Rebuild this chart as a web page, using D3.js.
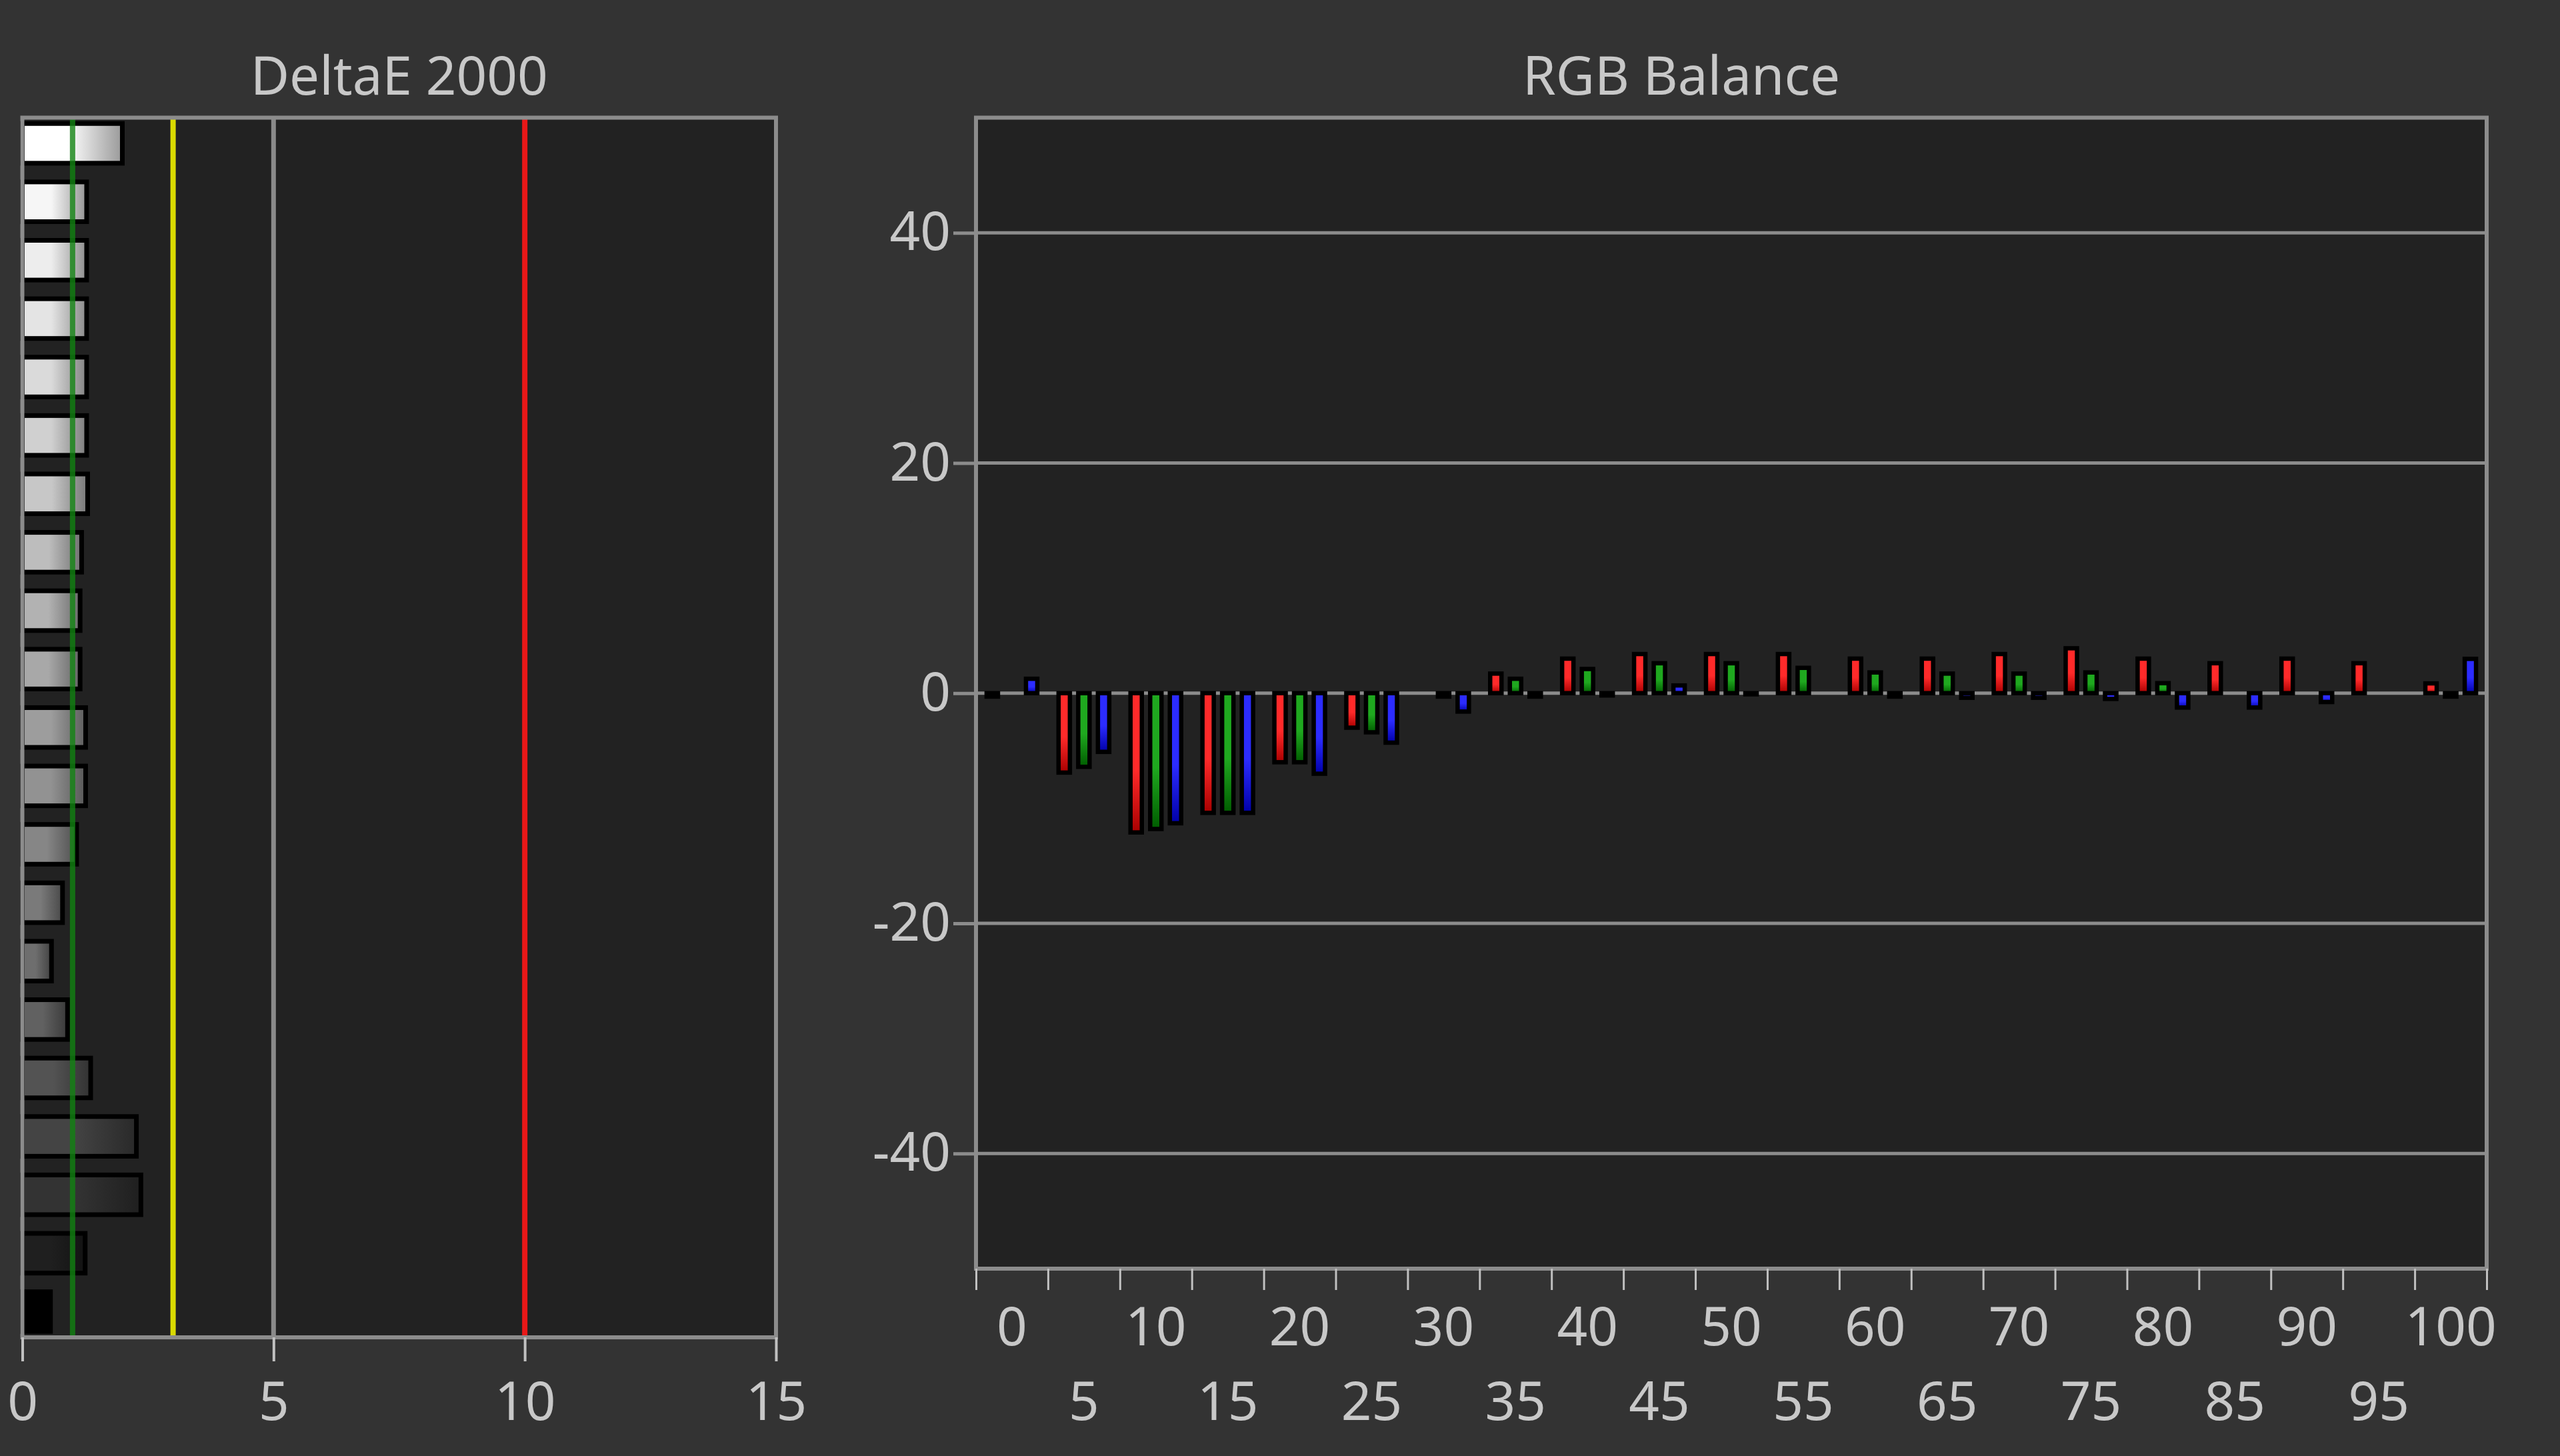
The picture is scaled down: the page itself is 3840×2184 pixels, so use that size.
<!DOCTYPE html>
<html><head><meta charset="utf-8">
<script src="https://cdn.jsdelivr.net/npm/d3@7/dist/d3.min.js"></script>
<style>html,body{margin:0;padding:0;background:#333333;} svg{display:block}</style>
</head><body>
<svg id="c" width="3840" height="2184"></svg>
<script>
// ---------- DATA ----------
const deltaCategories = ["100","95","90","85","80","75","70","65","60","55","50","45","40","35","30","25","20","15","10","5","0"];
const deltaValues = [1.99,1.28,1.28,1.28,1.28,1.28,1.30,1.18,1.15,1.15,1.26,1.26,1.08,0.80,0.58,0.90,1.36,2.27,2.36,1.25,0.56];
const deltaTicks = [0,5,10,15];
const deltaRefValues = [1,3,10];
const deltaGridValues = [5];

const rgbCategories = ["0","5","10","15","20","25","30","35","40","45","50","55","60","65","70","75","80","85","90","95","100"];
const redValues   = [-0.3,-6.9,-12.1,-10.4,-6.0,-3.0, 0.0, 1.7, 3.0, 3.4, 3.4, 3.4, 3.0, 3.0, 3.4, 3.9, 3.0, 2.6, 3.0, 2.6, 0.85];
const greenValues = [ 0.0,-6.4,-11.8,-10.4,-6.0,-3.4,-0.3, 1.25,2.1, 2.6, 2.6, 2.2, 1.8, 1.7, 1.7, 1.8, 0.87,0.0, 0.0, 0.0,-0.3];
const blueValues  = [ 1.25,-5.1,-11.3,-10.4,-7.0,-4.3,-1.6,-0.3,-0.2, 0.67,-0.1,0.0,-0.3,-0.4,-0.4,-0.5,-1.25,-1.25,-0.77,0.0, 2.98];
const rgbYTicks = [-40,-20,0,20,40];

// ---------- STYLE ----------
const FONT = "'Segoe UI','Noto Sans','Open Sans',sans-serif";
const TXT = "#c8c8c8";
const BORDER = "#8c8c8c";
const PLOTBG = "#222222";
const fmt = d => String(d);   // plain hyphen-minus like the original

const svg = d3.select("#c");
svg.append("rect").attr("width",3840).attr("height",2184).attr("fill","#333333");
const defs = svg.append("defs");

// ================= LEFT PANEL: DeltaE 2000 =================
const L = {x0:33.5, x1:1164, y0:176.5, y1:2006};
const xL = d3.scaleLinear().domain([0,15]).range([L.x0, L.x1]);
const yL = d3.scaleBand().domain(deltaCategories).range([L.y0, L.y1]).paddingInner(0.32).paddingOuter(0.1);

const gL = svg.append("g");
gL.append("rect").attr("x",L.x0).attr("y",L.y0).attr("width",L.x1-L.x0).attr("height",L.y1-L.y0).attr("fill",PLOTBG);

gL.selectAll("line.grid").data(deltaGridValues).join("line")
  .attr("x1",d=>xL(d)).attr("x2",d=>xL(d)).attr("y1",L.y0).attr("y2",L.y1)
  .attr("stroke","#8a8a8a").attr("stroke-width",7);

deltaCategories.forEach((c,i)=>{
  const s = (+c)/100;
  const v = Math.round(255*Math.pow(s,0.7));
  const base = d3.rgb(v,v,v);
  const dark = d3.rgb(v*0.6,v*0.6,v*0.6);
  const g = defs.append("linearGradient").attr("id","gl"+i).attr("x1",0).attr("x2",1).attr("y1",0).attr("y2",0);
  g.append("stop").attr("offset","0%").attr("stop-color",base.formatHex());
  g.append("stop").attr("offset","45%").attr("stop-color",base.formatHex());
  g.append("stop").attr("offset","100%").attr("stop-color",dark.formatHex());
});

gL.selectAll("rect.bar").data(deltaValues).join("rect")
  .attr("class","bar")
  .attr("x",xL(0))
  .attr("y",(d,i)=>yL(deltaCategories[i]))
  .attr("width",d=>xL(d)-xL(0))
  .attr("height",yL.bandwidth())
  .attr("fill",(d,i)=>"url(#gl"+i+")")
  .attr("stroke","#000").attr("stroke-width",7);

const refColors = {1:"rgb(18,131,18)",3:"#dada00",10:"#e81818"};
gL.selectAll("line.ref").data(deltaRefValues).join("line")
  .attr("x1",d=>xL(d)).attr("x2",d=>xL(d)).attr("y1",L.y0).attr("y2",L.y1)
  .attr("stroke",d=>refColors[d]).attr("stroke-width",8)
  .attr("stroke-opacity",d=>d===1?0.8:1);

gL.append("rect").attr("x",L.x0).attr("y",L.y0).attr("width",L.x1-L.x0).attr("height",L.y1-L.y0)
  .attr("fill","none").attr("stroke",BORDER).attr("stroke-width",6);

const axL = svg.append("g").attr("transform",`translate(0,${L.y1})`)
  .call(d3.axisBottom(xL).tickValues(deltaTicks).tickSize(36).tickFormat(fmt));
axL.select(".domain").remove();
axL.selectAll(".tick line").attr("stroke","#c0c0c0").attr("stroke-width",4);
axL.selectAll(".tick text").attr("fill",TXT).attr("font-family",FONT).attr("font-size",80)
  .attr("y",2101-L.y1).attr("dy","0.36em");

svg.append("text").attr("x",(L.x0+L.x1)/2).attr("y",113).attr("dy","0.36em")
  .attr("text-anchor","middle").attr("fill",TXT).attr("font-family",FONT).attr("font-size",80)
  .text("DeltaE 2000");

// ================= RIGHT PANEL: RGB Balance =================
const R = {x0:1464, x1:3730, y0:176.5, y1:1903};
const xR = d3.scaleBand().domain(rgbCategories).range([R.x0, R.x1]).padding(0);
const channels = ["R","G","B"];
const xSub = d3.scaleBand().domain(channels).range([0, xR.bandwidth()]).paddingInner(0.356).paddingOuter(0.506);
const yR = d3.scaleLinear().domain([-50,50]).range([R.y1, R.y0]);
const xEdge = d3.scaleLinear().domain([0, rgbCategories.length]).range([R.x0, R.x1]);

const gR = svg.append("g");
gR.append("rect").attr("x",R.x0).attr("y",R.y0).attr("width",R.x1-R.x0).attr("height",R.y1-R.y0).attr("fill",PLOTBG);

gR.selectAll("line.grid").data(rgbYTicks).join("line")
  .attr("x1",R.x0).attr("x2",R.x1).attr("y1",d=>yR(d)).attr("y2",d=>yR(d))
  .attr("stroke",BORDER).attr("stroke-width",5);

const chColors = {
  R:["#ff2a2a","#a80000"],
  G:["#1fa81f","#005c00"],
  B:["#2c2cff","#0000a8"]
};
channels.forEach(ch=>{
  const g = defs.append("linearGradient").attr("id","gr"+ch).attr("x1",0).attr("x2",0).attr("y1",0).attr("y2",1);
  g.append("stop").attr("offset","0%").attr("stop-color",chColors[ch][0]);
  g.append("stop").attr("offset","55%").attr("stop-color",chColors[ch][0]);
  g.append("stop").attr("offset","100%").attr("stop-color",chColors[ch][1]);
});

const seriesMap = {R:redValues, G:greenValues, B:blueValues};
const rgbData = [];
rgbCategories.forEach((c,i)=>channels.forEach(ch=>{
  rgbData.push({cat:c, ch:ch, v:seriesMap[ch][i]});
}));

const bw = xSub.bandwidth();
gR.selectAll("rect.bar").data(rgbData.filter(d=>d.v!==0)).join("rect")
  .attr("class","bar")
  .attr("x",d=>xR(d.cat)+xSub(d.ch)+1)
  .attr("width",bw-2)
  .attr("y",d=>yR(Math.max(d.v,0)))
  .attr("height",d=>Math.abs(yR(d.v)-yR(0)))
  .attr("fill",d=>"url(#gr"+d.ch+")")
  .attr("stroke","#000").attr("stroke-width",6.5);

gR.append("rect").attr("x",R.x0).attr("y",R.y0).attr("width",R.x1-R.x0).attr("height",R.y1-R.y0)
  .attr("fill","none").attr("stroke",BORDER).attr("stroke-width",6);

// y axis
const ayR = svg.append("g").attr("transform",`translate(${R.x0},0)`)
  .call(d3.axisLeft(yR).tickValues(rgbYTicks).tickSize(34).tickPadding(4).tickFormat(fmt));
ayR.select(".domain").remove();
ayR.selectAll(".tick line").attr("stroke",BORDER).attr("stroke-width",5);
ayR.selectAll(".tick text").attr("fill",TXT).attr("font-family",FONT).attr("font-size",80);

// x axis: ticks at band edges
const axEdge = svg.append("g").attr("transform",`translate(0,${R.y1})`)
  .call(d3.axisBottom(xEdge).ticks(rgbCategories.length+1).tickSize(32).tickFormat(""));
axEdge.select(".domain").remove();
axEdge.selectAll(".tick line").attr("stroke","#c0c0c0").attr("stroke-width",3);

// x axis labels at band centers, alternating rows
const axLab = svg.append("g").attr("transform",`translate(0,${R.y1})`)
  .call(d3.axisBottom(xR).tickSize(0));
axLab.select(".domain").remove();
axLab.selectAll(".tick text").attr("fill",TXT).attr("font-family",FONT).attr("font-size",80)
  .attr("y",(d,i)=> (i%2===0 ? 1989 : 2101) - R.y1).attr("dy","0.36em");

svg.append("text").attr("x",2522).attr("y",113).attr("dy","0.36em")
  .attr("text-anchor","middle").attr("fill",TXT).attr("font-family",FONT).attr("font-size",80)
  .text("RGB Balance");
</script>
</body></html>
